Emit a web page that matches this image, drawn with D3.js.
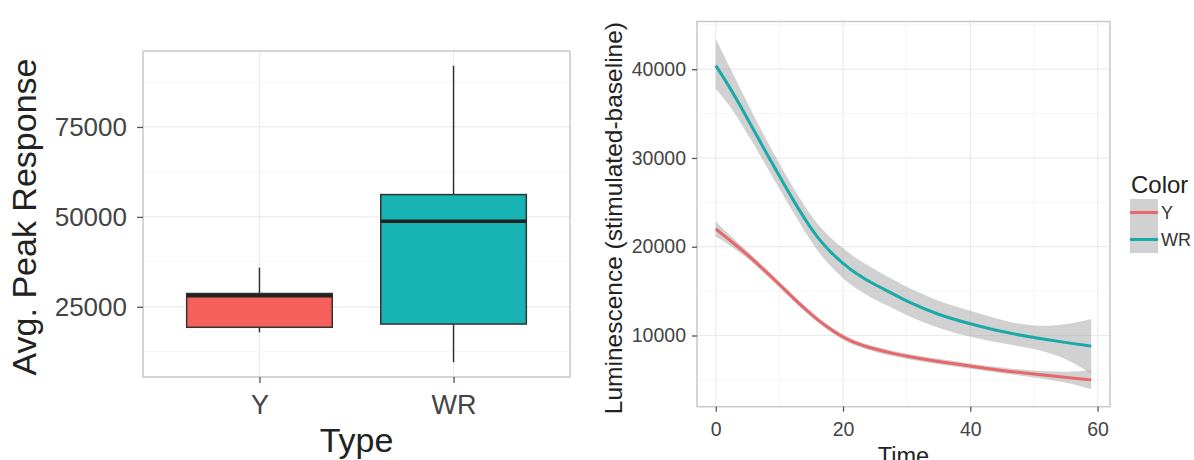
<!DOCTYPE html>
<html>
<head>
<meta charset="utf-8">
<script src="https://cdnjs.cloudflare.com/ajax/libs/d3/7.8.5/d3.min.js"></script>
<style>
body { margin: 0; background: #fff; }
svg { display: block; font-family: "Liberation Sans", Arial, sans-serif; }
</style>
</head>
<body>
<svg width="1194" height="460"></svg>
<script>
// left panel: box plot of avg. peak response per type
var types = ["Y", "WR"];
var whiskerLow = [17900, 9600];
var q1 = [19300, 20200];
var medians = [28100, 48800];
var q3 = [28700, 56200];
var whiskerHigh = [35900, 92000];
var boxTicks = [25000, 50000, 75000];
var boxMinor = [12500, 37500, 62500, 87500];

// right panel: smoothed luminescence over time, with confidence band
var times = [0, 2, 4, 6, 8, 10, 12, 14, 16, 18, 20, 22, 25, 28, 30, 35, 40, 45, 50, 55, 59];
var yMean = [22000, 20850, 19700, 18450, 17100, 15750, 14350, 13000, 11750, 10700, 9800, 9100, 8450, 7950, 7650, 7050, 6550, 6050, 5650, 5300, 5000];
var yLow = [21150, 20250, 19250, 18070, 16750, 15420, 14030, 12690, 11450, 10400, 9500, 8800, 8150, 7650, 7350, 6750, 6250, 5730, 5290, 4750, 3950];
var yHigh = [22850, 21450, 20150, 18830, 17450, 16080, 14670, 13310, 12050, 11000, 10100, 9400, 8750, 8250, 7950, 7350, 6850, 6370, 6010, 5850, 6050];
var wrMean = [40400, 38200, 35700, 33100, 30500, 27950, 25450, 23100, 21000, 19400, 18100, 17000, 15700, 14650, 13850, 12300, 11300, 10400, 9750, 9200, 8800];
var wrLow = [37800, 36100, 33900, 31500, 29000, 26550, 24050, 21700, 19500, 17800, 16400, 15300, 14000, 13050, 12250, 10800, 9800, 9100, 8550, 7500, 5650];
var wrHigh = [43400, 40500, 37600, 34700, 32000, 29350, 26850, 24500, 22500, 21000, 19800, 18700, 17400, 16250, 15450, 13800, 12800, 11700, 10950, 11200, 11850];
var lumTicks = [10000, 20000, 30000, 40000];
var lumMinor = [5000, 15000, 25000, 35000, 45000];
var timeTicks = [0, 20, 40, 60];
var timeMinor = [10, 30, 50];
var colorLevels = ["Y", "WR"];

var fills = { "Y": "#f5625b", "WR": "#17b3b5" };
var lineColors = { "Y": "#e8676a", "WR": "#18a9a8" };

var svg = d3.select("svg");

drawBoxPanel();
drawLinePanel();

// ggplot style: 5% padding on continuous scales
function expand(lo, hi) {
    var pad = (hi - lo) * 0.05;
    return [lo - pad, hi + pad];
}

function styleAxis(g, size) {
    g.select(".domain").remove();
    g.selectAll(".tick line").attr("stroke", "#555").attr("stroke-width", 1.3);
    g.selectAll(".tick text")
        .attr("fill", "#444")
        .style("font-size", size + "px")
        .style("font-family", "'Liberation Sans', Arial, sans-serif");
}

function drawBoxPanel() {
    var left = 143, right = 570, top = 51, bottom = 377;

    var x = d3.scalePoint().domain(types).range([left, right]).padding(0.6);
    var y = d3.scaleLinear()
        .domain(expand(d3.min(whiskerLow), d3.max(whiskerHigh)))
        .range([bottom, top]);
    var boxW = x.step() * 0.75;

    var panel = svg.append("g");
    panel.selectAll(".minor")
        .data(boxMinor)
        .enter()
        .append("line")
        .attr("x1", left).attr("x2", right)
        .attr("y1", (d) => y(d)).attr("y2", (d) => y(d))
        .attr("stroke", "#f6f6f6").attr("stroke-width", 1);
    panel.selectAll(".major")
        .data(boxTicks)
        .enter()
        .append("line")
        .attr("x1", left).attr("x2", right)
        .attr("y1", (d) => y(d)).attr("y2", (d) => y(d))
        .attr("stroke", "#ebebeb").attr("stroke-width", 1.2);
    panel.selectAll(".vgrid")
        .data(types)
        .enter()
        .append("line")
        .attr("x1", (d) => x(d)).attr("x2", (d) => x(d))
        .attr("y1", top).attr("y2", bottom)
        .attr("stroke", "#ebebeb").attr("stroke-width", 1.2);

    var boxes = panel.selectAll(".box")
        .data(types)
        .enter()
        .append("g");

    boxes.append("line")
        .attr("x1", (d) => x(d)).attr("x2", (d) => x(d))
        .attr("y1", (d, i) => y(whiskerHigh[i]))
        .attr("y2", (d, i) => y(q3[i]))
        .attr("stroke", "#333").attr("stroke-width", 1.5);
    boxes.append("line")
        .attr("x1", (d) => x(d)).attr("x2", (d) => x(d))
        .attr("y1", (d, i) => y(q1[i]))
        .attr("y2", (d, i) => y(whiskerLow[i]))
        .attr("stroke", "#333").attr("stroke-width", 1.5);
    boxes.append("rect")
        .attr("x", (d) => x(d) - boxW / 2)
        .attr("width", boxW)
        .attr("y", (d, i) => y(q3[i]))
        .attr("height", (d, i) => y(q1[i]) - y(q3[i]))
        .attr("fill", (d) => fills[d])
        .attr("stroke", "#333").attr("stroke-width", 1.5);
    boxes.append("line")
        .attr("x1", (d) => x(d) - boxW / 2).attr("x2", (d) => x(d) + boxW / 2)
        .attr("y1", (d, i) => y(medians[i]))
        .attr("y2", (d, i) => y(medians[i]))
        .attr("stroke", "#222").attr("stroke-width", 3.5);

    panel.append("rect")
        .attr("x", left).attr("y", top)
        .attr("width", right - left).attr("height", bottom - top)
        .attr("fill", "none").attr("stroke", "#c8c8c8").attr("stroke-width", 1.5);

    svg.append("g")
        .attr("transform", "translate(" + left + ",0)")
        .call(d3.axisLeft(y).tickValues(boxTicks).tickSize(6).tickPadding(10).tickFormat(d3.format("d")))
        .call(styleAxis, 26);
    svg.append("g")
        .attr("transform", "translate(0," + bottom + ")")
        .call(d3.axisBottom(x).tickSize(6).tickPadding(12))
        .call(styleAxis, 27);

    svg.append("text")
        .attr("x", (left + right) / 2).attr("y", 452)
        .attr("text-anchor", "middle")
        .attr("fill", "#222")
        .style("font-size", "34px")
        .text("Type");
    svg.append("text")
        .attr("transform", "translate(36," + ((top + bottom) / 2 + 3) + ") rotate(-90)")
        .attr("text-anchor", "middle")
        .attr("fill", "#222")
        .style("font-size", "34px")
        .text("Avg. Peak Response");
}

function drawLinePanel() {
    var left = 697, right = 1110, top = 21.5, bottom = 406.7;

    var x = d3.scaleLinear()
        .domain(expand(d3.min(times), d3.max(times)))
        .range([left, right]);
    var y = d3.scaleLinear()
        .domain(expand(d3.min(yLow.concat(wrLow)), d3.max(yHigh.concat(wrHigh))))
        .range([bottom, top]);

    var panel = svg.append("g");
    panel.selectAll(".hminor")
        .data(lumMinor)
        .enter()
        .append("line")
        .attr("x1", left).attr("x2", right)
        .attr("y1", (d) => y(d)).attr("y2", (d) => y(d))
        .attr("stroke", "#f6f6f6").attr("stroke-width", 1);
    panel.selectAll(".vminor")
        .data(timeMinor)
        .enter()
        .append("line")
        .attr("x1", (d) => x(d)).attr("x2", (d) => x(d))
        .attr("y1", top).attr("y2", bottom)
        .attr("stroke", "#f6f6f6").attr("stroke-width", 1);
    panel.selectAll(".hmajor")
        .data(lumTicks)
        .enter()
        .append("line")
        .attr("x1", left).attr("x2", right)
        .attr("y1", (d) => y(d)).attr("y2", (d) => y(d))
        .attr("stroke", "#ebebeb").attr("stroke-width", 1.2);
    panel.selectAll(".vmajor")
        .data(timeTicks)
        .enter()
        .append("line")
        .attr("x1", (d) => x(d)).attr("x2", (d) => x(d))
        .attr("y1", top).attr("y2", bottom)
        .attr("stroke", "#ebebeb").attr("stroke-width", 1.2);

    var series = [
        { name: "Y", mean: yMean, low: yLow, high: yHigh },
        { name: "WR", mean: wrMean, low: wrLow, high: wrHigh }
    ];

    // basis curve gives the soft loess look of geom_smooth
    var band = d3.area()
        .x((d, i) => x(times[i]))
        .y0((d) => y(d[0]))
        .y1((d) => y(d[1]))
        .curve(d3.curveBasis);
    var line = d3.line()
        .x((d, i) => x(times[i]))
        .y((d) => y(d))
        .curve(d3.curveBasis);

    series.forEach((s) => {
        panel.append("path")
            .attr("d", band(s.low.map((v, i) => [v, s.high[i]])))
            .attr("fill", "#999")
            .attr("fill-opacity", 0.45);
        panel.append("path")
            .attr("d", line(s.mean))
            .attr("fill", "none")
            .attr("stroke", lineColors[s.name])
            .attr("stroke-width", 3);
    });

    panel.append("rect")
        .attr("x", left).attr("y", top)
        .attr("width", right - left).attr("height", bottom - top)
        .attr("fill", "none").attr("stroke", "#c8c8c8").attr("stroke-width", 1.5);

    svg.append("g")
        .attr("transform", "translate(" + left + ",0)")
        .call(d3.axisLeft(y).tickValues(lumTicks).tickSize(5).tickPadding(6).tickFormat(d3.format("d")))
        .call(styleAxis, 19.5);
    svg.append("g")
        .attr("transform", "translate(0," + bottom + ")")
        .call(d3.axisBottom(x).tickValues(timeTicks).tickSize(5).tickPadding(10).tickFormat(d3.format("d")))
        .call(styleAxis, 19.5);

    // the reference crops this title at the bottom edge too
    svg.append("text")
        .attr("x", (left + right) / 2).attr("y", 464)
        .attr("text-anchor", "middle")
        .attr("fill", "#222")
        .style("font-size", "23.5px")
        .text("Time");
    svg.append("text")
        .attr("transform", "translate(622," + ((top + bottom) / 2 + 4) + ") rotate(-90)")
        .attr("text-anchor", "middle")
        .attr("fill", "#222")
        .style("font-size", "24.5px")
        .text("Luminescence (stimulated-baseline)");

    // legend
    var legend = svg.append("g").attr("transform", "translate(1130,0)");
    legend.append("text")
        .attr("x", 1).attr("y", 193)
        .attr("fill", "#222")
        .style("font-size", "24px")
        .text("Color");
    var keys = legend.selectAll(".key")
        .data(colorLevels)
        .enter()
        .append("g")
        .attr("transform", (d, i) => "translate(0," + (199 + i * 27) + ")");
    keys.append("rect")
        .attr("width", 28).attr("height", 27)
        .attr("fill", "#999").attr("fill-opacity", 0.45);
    keys.append("line")
        .attr("x1", 0).attr("x2", 28)
        .attr("y1", 13.5).attr("y2", 13.5)
        .attr("stroke", (d) => lineColors[d])
        .attr("stroke-width", 3);
    keys.append("text")
        .attr("x", 31).attr("y", 13.5)
        .attr("dy", "0.36em")
        .attr("fill", "#333")
        .style("font-size", "18px")
        .text((d) => d);
}
</script>
</body>
</html>
